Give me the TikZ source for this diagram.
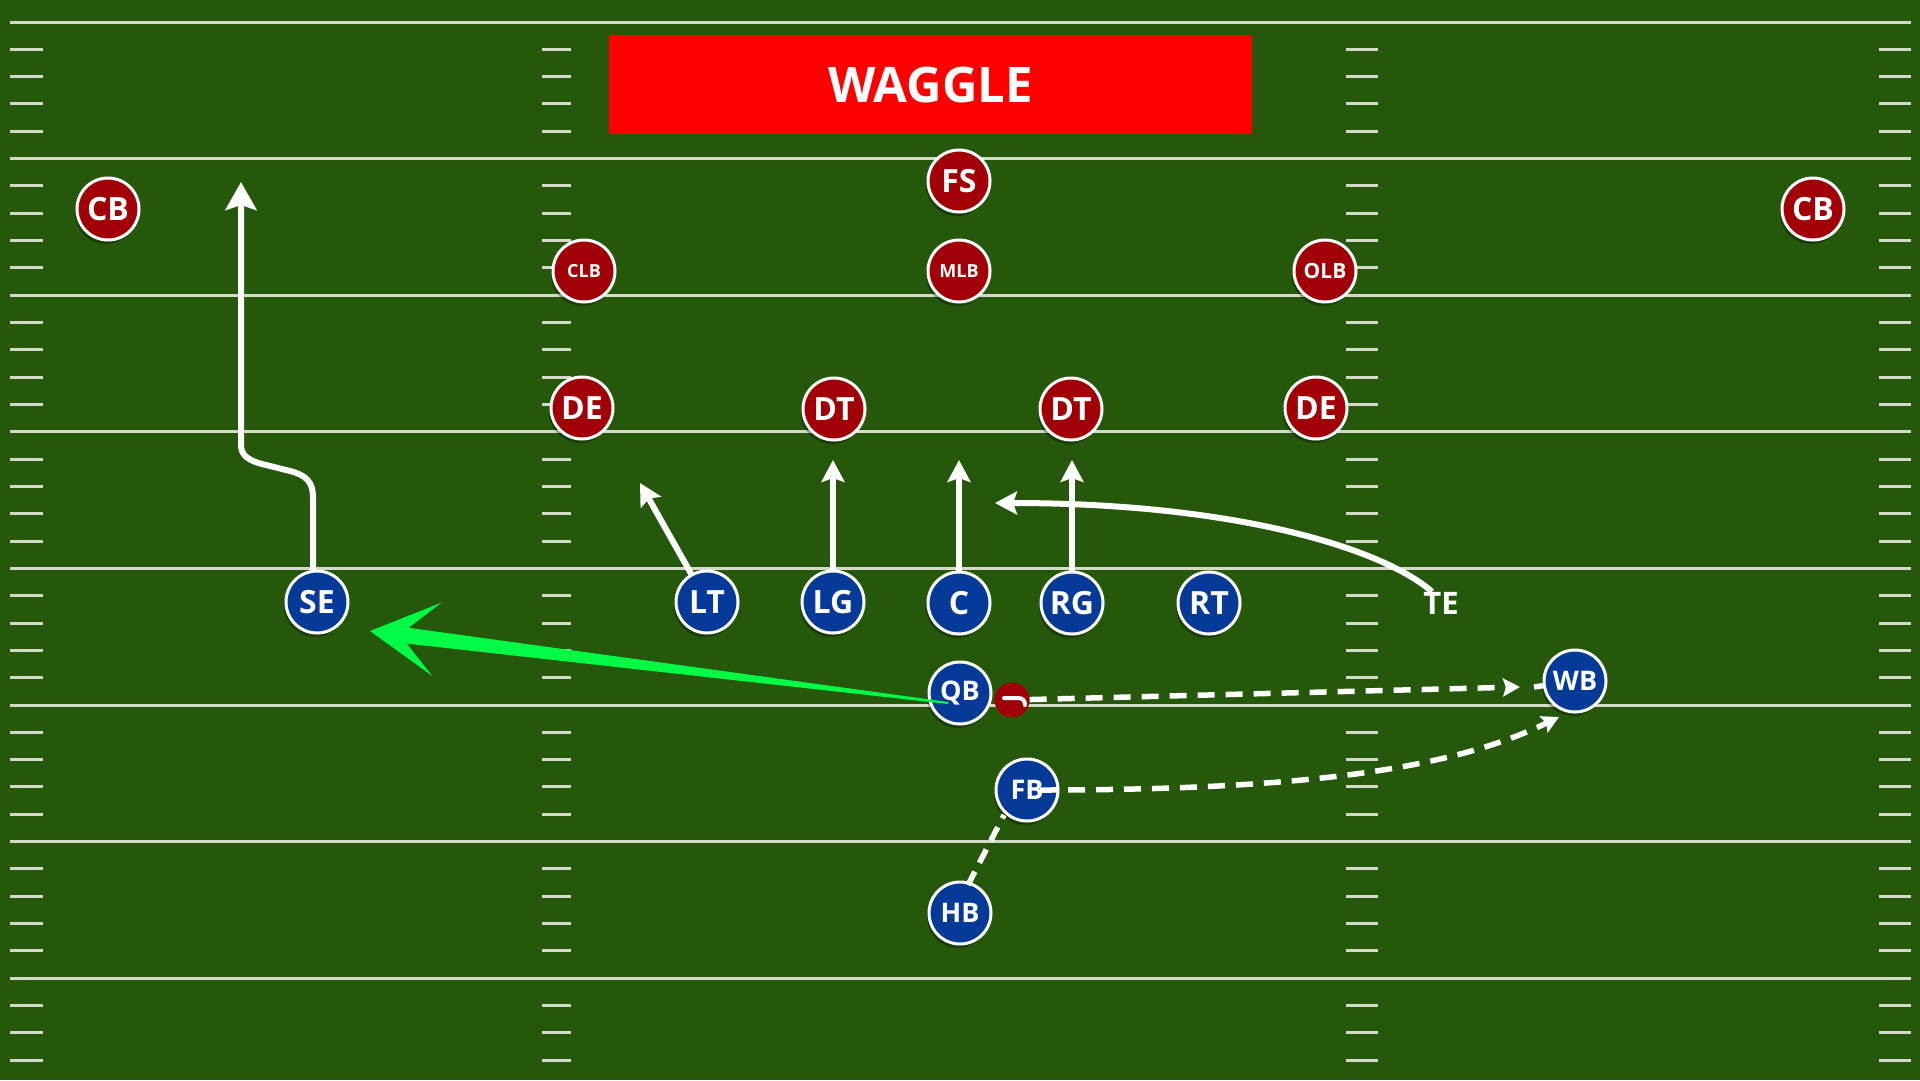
\documentclass[tikz,border=0pt]{standalone}
\usepackage{fontspec}
\setmainfont{Open Sans}
\usetikzlibrary{arrows.meta,shadows,calc}
\definecolor{grass}{RGB}{38,88,12}
\definecolor{chalk}{RGB}{212,218,200}
\definecolor{offblue}{RGB}{6,58,152}
\definecolor{defred}{RGB}{160,0,6}
\definecolor{passgreen}{RGB}{0,250,70}
\definecolor{titlered}{RGB}{255,0,0}
\begin{document}
\begin{tikzpicture}[x=1pt,y=-1pt,
  yardline/.style={draw=chalk, line width=3pt},
  hashline/.style={draw=chalk, line width=3pt},
  player/.style={circle, draw=white, line width=3pt, minimum size=62pt, inner sep=0pt, text=white,
    font=\bfseries\fontsize{32}{32}\selectfont,
    drop shadow={opacity=0.3, shadow xshift=-2pt, shadow yshift=-4pt, fill=black}},
  offp/.style={player, fill=offblue},
  defp/.style={player, fill=defred},
  smalltxt/.style={font=\bfseries\fontsize{27}{27}\selectfont},
  tinytxt/.style={font=\bfseries\fontsize{18}{18}\selectfont},
  route/.style={draw=white, line width=6pt},
  dashroute/.style={draw=white, line width=5.5pt, dash pattern=on 17pt off 11pt},
  bighead/.tip={Stealth[length=28pt,width=31pt,inset=5pt]},
  smallhead/.tip={Stealth[length=22pt,width=23pt,inset=4pt]},
  dashhead/.tip={Stealth[length=17pt,width=18pt,inset=3pt]},
]
\useasboundingbox (0,0) rectangle (1920,1080);
\fill[grass] (0,0) rectangle (1920,1080);
\begin{scope}
\clip (0,0) rectangle (1920,1080);
\foreach \k in {0,...,7}{
  \pgfmathsetmacro{\yardy}{22+136.6*\k}
  \draw[yardline] (10,\yardy) -- (1911,\yardy);
  \foreach \j in {1,...,4}{
    \pgfmathsetmacro{\hashy}{\yardy+27.32*\j}
    \draw[hashline] (10,\hashy) -- (43,\hashy) (542,\hashy) -- (571,\hashy)
      (1346,\hashy) -- (1378,\hashy) (1879,\hashy) -- (1911,\hashy);
  }
}
\end{scope}

% title
\node[fill=titlered, minimum width=643pt, minimum height=99pt, inner sep=0pt, text=white,
  font=\bfseries\fontsize{49}{49}\selectfont] (title) at (930.5,84.5) {WAGGLE};

% defense
\node[defp] (CBL) at (108,209) {CB};
\node[defp] (CBR) at (1813,209) {CB};
\node[defp] (FS) at (959,181) {FS};
\node[defp, tinytxt] (MLB) at (959,271) {MLB};
\node[defp, tinytxt] (CLB) at (584,271) {CLB};
\node[defp, font=\bfseries\fontsize{21}{21}\selectfont] (OLB) at (1325,271) {OLB};
\node[defp] (DEL) at (582,408) {DE};
\node[defp] (DTL) at (834,409) {DT};
\node[defp] (DTR) at (1071,409) {DT};
\node[defp] (DER) at (1316,408) {DE};

% offense
\node[offp] (SE) at (317,602) {SE};
\node[offp] (LT) at (707,602) {LT};
\node[offp] (LG) at (833,602) {LG};
\node[offp] (C) at (959,603) {C};
\node[offp] (RG) at (1072,603) {RG};
\node[offp] (RT) at (1209,603) {RT};
\node[offp, smalltxt] (QB) at (960,693) {QB};
\node[offp, smalltxt] (WB) at (1575,681) {WB};
\node[offp, smalltxt] (FB) at (1027,790) {FB};
\node[offp, smalltxt] (HB) at (960,913) {HB};
\node[text=white, inner sep=0pt, font=\bfseries\fontsize{31}{31}\selectfont] (TE) at (1441,603) {TE};

% ball
\node[circle, fill=defred, minimum size=35pt, inner sep=0pt] (ball) at (1012,700) {};
\draw[white, line width=4pt, line cap=round] ($(ball)+(-8,-2)$) -- ($(ball)+(6,-2)$)
  .. controls ($(ball)+(11,-2)$) and ($(ball)+(13,1)$) .. ($(ball)+(13,5)$);

% route end points
\coordinate (seT) at (241,182);
\coordinate (ltT) at (640,483);
\coordinate (lgT) at (833,460);
\coordinate (cT) at (959,460);
\coordinate (rgT) at (1072,460);
\coordinate (teT) at (995,503);
\coordinate (fbT) at (1559,717);
\coordinate (wbT) at (1520,687);
\coordinate (gtip) at (370,631);

% routes
\draw[route, line join=round, -{bighead}] ([xshift=-4pt]SE.north) -- (313,497)
  .. controls (313,482) and (306,475) .. (290,471) -- (266,465)
  .. controls (248,461) and (241,455) .. (241,445) -- (seT);
\draw[route, -{smallhead}] (LT) -- (ltT);
\draw[route, -{smallhead}] (LG) -- (lgT);
\draw[route, -{smallhead}] (C) -- (cT);
\draw[route, -{smallhead}] (RG) -- (rgT);
\draw[route, -{smallhead}] ([xshift=-9pt]TE.north) .. controls (1385,550) and (1240,503) .. (teT);

% dashed routes
\draw[dashroute, -{dashhead}] (ball) -- (wbT);
\draw[dashroute] ([xshift=14pt]wbT) -- (WB);
\draw[dashroute, -{dashhead}] ([xshift=13pt]FB.center) .. controls (1300,790) and (1450,770) .. (fbT);
\draw[dashroute, dash pattern=on 15pt off 10pt] ([xshift=8pt]HB.center) ++(0,-28) -- ([yshift=-2pt]FB.south west);

% pass
\fill[passgreen] (gtip) -- (441.6,602.6) -- (408.7,627.8) -- (948.1,702.0)
  -- (947.9,704.0) -- (406.7,643.6) -- (432.4,676.1) -- cycle;
\end{tikzpicture}
\end{document}
